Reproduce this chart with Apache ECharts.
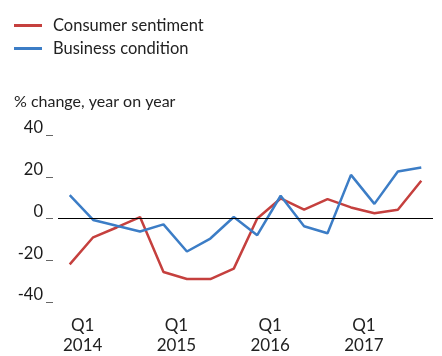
<!DOCTYPE html>
<html>
<head>
<meta charset="utf-8">
<script src="https://cdn.jsdelivr.net/npm/echarts@6/dist/echarts.min.js"></script>
<style>
  html, body { margin: 0; padding: 0; background: #fff; }
  #box { width: 442px; height: 356px; }
</style>
</head>
<body>
<div id="box"></div>
<script>
// quarters 2014 Q1 .. 2017 Q4
var quarters = ['Q1\n2014', 'Q2', 'Q3', 'Q4', 'Q1\n2015', 'Q2', 'Q3', 'Q4',
                'Q1\n2016', 'Q2', 'Q3', 'Q4', 'Q1\n2017', 'Q2', 'Q3', 'Q4'];
var consumer = [-22, -9, -4.3, 0.7, -25.6, -29, -29, -24, 0, 9.6, 4.2, 9.3, 5.3, 2.5, 4.2, 18.1];
var business = [11.2, -0.7, -3.5, -6.2, -2.8, -15.8, -9.6, 0.7, -8, 10.9, -3.7, -7.1, 20.9, 7, 22.5, 24.4];
var yTicks = [-40, -20, 0, 20, 40];

var chart = echarts.init(document.getElementById('box'));
var font = 'Lato, "Noto Sans", sans-serif';

var option = {
    animation: false,
    color: ['#c5403e', '#3c7dc6'],
    textStyle: { fontFamily: font },
    title: {
        text: '% change, year on year',
        left: 9,
        top: 89,
        textStyle: { fontFamily: font, fontSize: 16, fontWeight: 'normal', color: '#222' }
    },
    legend: {
        orient: 'vertical',
        left: 9,
        top: 12,
        icon: 'rect',
        itemWidth: 28,
        itemHeight: 3,
        itemGap: 6,
        textStyle: { fontFamily: font, fontSize: 16.5, color: '#222', padding: [0, 0, 0, 6] },
        data: ['Consumer sentiment', 'Business condition']
    },
    grid: { left: 58, right: 9, top: 135, bottom: 50.5, containLabel: false },
    xAxis: {
        type: 'category',
        data: quarters,
        boundaryGap: true,
        axisLine: { show: false },
        axisTick: { show: false },
        axisLabel: {
            interval: 3,
            margin: 14,
            fontSize: 17,
            lineHeight: 20,
            color: '#222',
            padding: [0, 0, 0, 26],
            formatter: function (v) { return v.indexOf('\n') > 0 ? v : ''; }
        }
    },
    yAxis: {
        type: 'value',
        min: yTicks[0],
        max: yTicks[yTicks.length - 1],
        interval: 20,
        offset: 5,
        splitLine: { show: false },
        axisLine: { show: false },
        axisTick: { show: true, length: 7, lineStyle: { color: '#666' } },
        axisLabel: {
            margin: 10,
            fontSize: 16.5,
            color: '#1a1a1a',
            verticalAlign: 'bottom',
            lineHeight: 14
        }
    },
    series: [
        {
            name: 'Consumer sentiment',
            type: 'line',
            data: consumer,
            showSymbol: false,
            lineStyle: { width: 2.5 },
            markLine: {
                silent: true,
                symbol: 'none',
                label: { show: false },
                lineStyle: { color: '#000', width: 1, type: 'solid' },
                data: [{ yAxis: 0 }]
            }
        },
        {
            name: 'Business condition',
            type: 'line',
            data: business,
            showSymbol: false,
            lineStyle: { width: 2.5 }
        }
    ]
};

chart.setOption(option);
</script>
</body>
</html>
